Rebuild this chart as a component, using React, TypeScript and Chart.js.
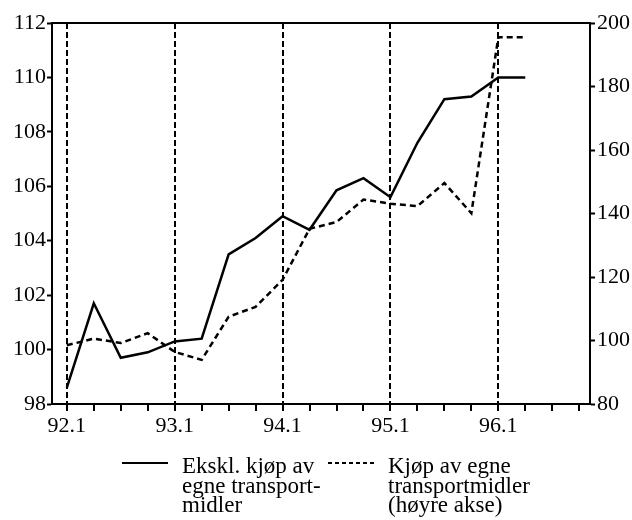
import React, { useEffect, useRef } from "react";
import { Chart, registerables } from "chart.js";

Chart.register(...registerables);

const quarters = [
  "92.1", "92.2", "92.3", "92.4",
  "93.1", "93.2", "93.3", "93.4",
  "94.1", "94.2", "94.3", "94.4",
  "95.1", "95.2", "95.3", "95.4",
  "96.1", "96.2",
];
const tickLabels = ["92.1", "93.1", "94.1", "95.1", "96.1"];
const eksklValues = [98.6, 101.7, 99.7, 99.9, 100.3, 100.4, 103.5, 104.1, 104.9, 104.4, 105.85, 106.3, 105.6, 107.6, 109.2, 109.3, 110.0, 110.0];
const kjopValues = [98.5, 100.6, 99.2, 102.3, 96.4, 93.9, 107.5, 110.6, 119.1, 135.2, 137.3, 144.4, 143.1, 142.3, 149.6, 140.1, 195.5, 195.5];
const eksklLabel = ["Ekskl. kjøp av", "egne transport-", "midler"];
const kjopLabel = ["Kjøp av egne", "transportmidler", "(høyre akse)"];

const FONT = "'Liberation Serif', 'Times New Roman', serif";

const framePlugin = {
  id: "frame",
  afterDatasetsDraw(chart: any) {
    const { ctx, chartArea } = chart;
    ctx.save();
    ctx.strokeStyle = "#000";
    ctx.lineWidth = 2;
    ctx.beginPath();
    ctx.moveTo(chartArea.left - 1, chartArea.top);
    ctx.lineTo(chartArea.right + 1, chartArea.top);
    ctx.stroke();
    ctx.restore();
  },
};

const legendPlugin = {
  id: "customLegend",
  afterDraw(chart: any) {
    const { ctx, chartArea } = chart;
    const items = [
      { ds: chart.data.datasets[0], sx: 122, tx: 182 },
      { ds: chart.data.datasets[1], sx: 328, tx: 388 },
    ];
    const rowY = chartArea.bottom + 59;
    ctx.save();
    ctx.font = `23px ${FONT}`;
    ctx.fillStyle = "#000";
    ctx.textAlign = "left";
    ctx.textBaseline = "alphabetic";
    items.forEach((it) => {
      ctx.strokeStyle = "#000";
      ctx.lineWidth = 2;
      ctx.setLineDash(it.ds.borderDash ? [4, 3] : []);
      ctx.beginPath();
      ctx.moveTo(it.sx, rowY);
      ctx.lineTo(it.sx + 46, rowY);
      ctx.stroke();
      ctx.setLineDash([]);
      (it.ds.legendLines as string[]).forEach((line, i) => {
        ctx.fillText(line, it.tx, rowY + 10 + i * 19.5);
      });
    });
    ctx.restore();
  },
};

export default function App() {
  const ref = useRef<HTMLCanvasElement | null>(null);

  useEffect(() => {
    document.body.style.margin = "0";
    const canvas = ref.current;
    if (!canvas) return;
    const chart = new Chart(canvas, {
      type: "line",
      data: {
        datasets: [
          {
            label: eksklLabel.join(" "),
            legendLines: eksklLabel,
            data: eksklValues.map((v, i) => ({ x: i, y: v })),
            yAxisID: "y",
            borderColor: "#000",
            borderWidth: 2.5,
            pointRadius: 0,
            tension: 0,
          } as any,
          {
            label: kjopLabel.join(" "),
            legendLines: kjopLabel,
            data: kjopValues.map((v, i) => ({ x: i, y: v })),
            yAxisID: "y1",
            borderColor: "#000",
            borderWidth: 2.5,
            borderDash: [6, 4],
            pointRadius: 0,
            tension: 0,
          } as any,
        ],
      },
      options: {
        animation: false,
        responsive: false,
        maintainAspectRatio: false,
        layout: { padding: { top: 23, bottom: 80, left: 0, right: 0 } },
        plugins: {
          legend: { display: false },
          tooltip: { enabled: false },
          title: { display: false },
        },
        scales: {
          x: {
            type: "linear",
            min: -0.55,
            max: 19.4,
            afterFit: (s: any) => {
              s.height = 36;
            },
            ticks: {
              stepSize: 1,
              includeBounds: false,
              autoSkip: false,
              maxRotation: 0,
              padding: 2,
              color: "#000",
              font: { family: FONT, size: 22 },
              callback: (v: any) => {
                const n = Number(v);
                if (n % 4 === 0 && n / 4 < tickLabels.length) return tickLabels[n / 4];
                return "";
              },
            },
            grid: {
              drawOnChartArea: true,
              drawTicks: true,
              tickLength: 7,
              tickWidth: 2,
              tickColor: "#000",
              tickBorderDash: [],
              lineWidth: 2,
              color: (c: any) =>
                c.tick && Number(c.tick.value) % 4 === 0 && Number(c.tick.value) / 4 < tickLabels.length
                  ? "#000"
                  : "rgba(0,0,0,0)",
            },
            border: { display: true, color: "#000", width: 2, dash: [6, 3] },
          } as any,
          y: {
            type: "linear",
            position: "left",
            min: 98,
            max: 112,
            afterFit: (s: any) => {
              s.width = 52;
            },
            ticks: {
              stepSize: 2,
              padding: 1,
              color: "#000",
              font: { family: FONT, size: 22 },
            },
            grid: {
              drawOnChartArea: false,
              tickLength: 5,
              tickWidth: 2,
              tickColor: "#000",
            },
            border: { display: true, color: "#000", width: 2 },
          } as any,
          y1: {
            type: "linear",
            position: "right",
            min: 80,
            max: 200,
            afterFit: (s: any) => {
              s.width = 42;
            },
            ticks: {
              stepSize: 20,
              padding: 2,
              color: "#000",
              font: { family: FONT, size: 22 },
            },
            grid: {
              drawOnChartArea: false,
              tickLength: 5,
              tickWidth: 2,
              tickColor: "#000",
            },
            border: { display: true, color: "#000", width: 2 },
          } as any,
        },
      } as any,
      plugins: [framePlugin, legendPlugin],
    });
    return () => chart.destroy();
  }, []);

  return (
    <div style={{ width: 632, height: 520, background: "#fff" }}>
      <canvas ref={ref} width={632} height={520} style={{ display: "block" }} />
    </div>
  );
}
